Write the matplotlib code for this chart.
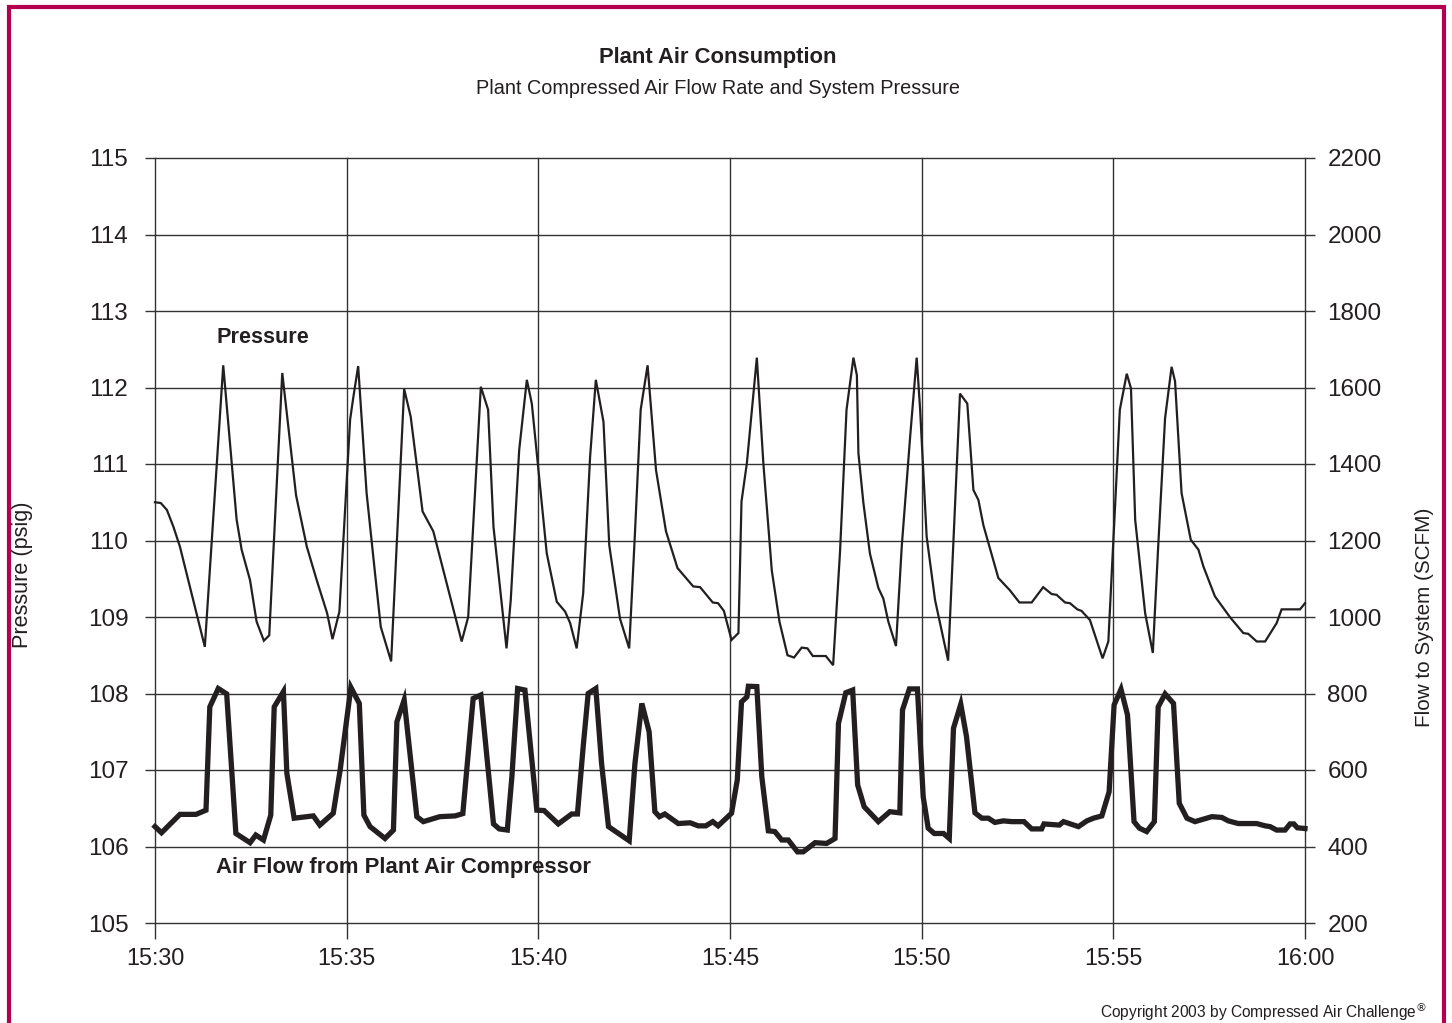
import matplotlib
matplotlib.use("Agg")
import matplotlib.pyplot as plt
from matplotlib.patches import Rectangle
from matplotlib import font_manager

names = {f.name for f in font_manager.fontManager.ttflist}
FAM = ['Liberation Sans Narrow', 'Liberation Sans', 'DejaVu Sans'] if 'Liberation Sans Narrow' in names else ['Liberation Sans', 'DejaVu Sans']
plt.rcParams['font.family'] = FAM

INK = '#231f20'
BORDER = '#b3004f'

# ---- data (minutes after 15:30) ----
pressure_t = [0.00, 0.15, 0.31, 0.48, 0.65, 1.30, 1.78, 2.13, 2.26, 2.48, 2.65, 2.84, 2.98,
              3.32, 3.68, 3.96, 4.22, 4.49, 4.63, 4.81, 5.09, 5.17, 5.30, 5.52, 5.74, 5.89,
              6.16, 6.50, 6.67, 6.98, 7.26, 8.00, 8.17, 8.50, 8.69, 8.83, 9.17, 9.28, 9.50,
              9.70, 9.83, 10.03, 10.22, 10.48, 10.70, 10.83, 11.00, 11.17, 11.35, 11.50, 11.70,
              11.85, 12.13, 12.37, 12.52, 12.67, 12.85, 13.07, 13.33, 13.63, 14.04, 14.22,
              14.55, 14.69, 14.84, 15.04, 15.22, 15.30, 15.44, 15.70, 15.87, 16.09, 16.29,
              16.50, 16.67, 16.87, 17.02, 17.16, 17.50, 17.69, 17.87, 18.04, 18.22, 18.31,
              18.35, 18.48, 18.65, 18.87, 19.00, 19.13, 19.33, 19.48, 19.70, 19.87, 19.96,
              20.13, 20.35, 20.69, 20.83, 21.00, 21.19, 21.35, 21.48, 21.61, 22.00, 22.30,
              22.55, 22.87, 23.17, 23.39, 23.52, 23.74, 23.87, 24.06, 24.17, 24.39, 24.72,
              24.87, 25.04, 25.17, 25.35, 25.46, 25.57, 25.83, 26.03, 26.17, 26.35, 26.52,
              26.61, 26.78, 27.02, 27.22, 27.35, 27.65, 28.04, 28.39, 28.52, 28.74, 28.96,
              29.26, 29.39, 29.87, 30.00]
pressure_psig = [110.50, 110.49, 110.40, 110.18, 109.92, 108.61, 112.29, 110.27, 109.88, 109.48,
                 108.94, 108.69, 108.76, 112.19, 110.59, 109.92, 109.48, 109.05, 108.71, 109.07,
                 111.58, 111.86, 112.28, 110.62, 109.57, 108.87, 108.42, 111.98, 111.62, 110.38,
                 110.12, 108.68, 109.00, 112.01, 111.71, 110.18, 108.59, 109.22, 111.18, 112.10,
                 111.79, 110.79, 109.83, 109.20, 109.07, 108.92, 108.59, 109.31, 111.09, 112.10,
                 111.55, 109.94, 108.98, 108.59, 110.09, 111.71, 112.29, 110.92, 110.12, 109.64,
                 109.40, 109.39, 109.19, 109.18, 109.08, 108.70, 108.79, 110.51, 111.01, 112.39,
                 111.01, 109.61, 108.94, 108.50, 108.47, 108.60, 108.59, 108.49, 108.49, 108.37,
                 109.85, 111.71, 112.39, 112.16, 111.14, 110.49, 109.83, 109.38, 109.24, 108.94,
                 108.62, 109.92, 111.36, 112.39, 111.71, 110.05, 109.22, 108.43, 110.00, 111.92,
                 111.79, 110.66, 110.53, 110.20, 109.51, 109.35, 109.19, 109.19, 109.39, 109.30,
                 109.29, 109.19, 109.18, 109.10, 109.08, 108.96, 108.46, 108.68, 110.40, 111.71,
                 112.18, 111.99, 110.27, 109.05, 108.53, 109.92, 111.60, 112.27, 112.08, 110.62,
                 110.01, 109.88, 109.66, 109.27, 109.00, 108.79, 108.78, 108.68, 108.68, 108.92,
                 109.10, 109.10, 109.18]

flow_t = [0.00, 0.17, 0.65, 1.07, 1.33, 1.43, 1.65, 1.87, 2.11, 2.48, 2.63, 2.83, 3.02, 3.11,
          3.35, 3.44, 3.63, 4.13, 4.30, 4.65, 4.83, 5.11, 5.33, 5.45, 5.61, 6.00, 6.22, 6.31,
          6.50, 6.83, 7.00, 7.43, 7.83, 8.03, 8.17, 8.30, 8.50, 8.83, 8.98, 9.19, 9.31, 9.46,
          9.65, 9.96, 10.15, 10.52, 10.87, 11.02, 11.17, 11.30, 11.50, 11.65, 11.83, 12.37,
          12.52, 12.70, 12.89, 13.04, 13.16, 13.30, 13.65, 13.96, 14.17, 14.37, 14.55, 14.69,
          15.04, 15.19, 15.30, 15.44, 15.48, 15.70, 15.83, 16.00, 16.17, 16.35, 16.52, 16.76,
          16.91, 17.22, 17.52, 17.74, 17.83, 18.02, 18.20, 18.33, 18.50, 18.87, 19.17, 19.43,
          19.50, 19.68, 19.89, 20.04, 20.17, 20.33, 20.57, 20.72, 20.83, 21.02, 21.17, 21.39,
          21.57, 21.74, 21.91, 22.13, 22.35, 22.67, 22.87, 23.13, 23.19, 23.59, 23.70, 24.09,
          24.31, 24.48, 24.70, 24.89, 25.02, 25.20, 25.37, 25.54, 25.68, 25.87, 26.07, 26.17,
          26.35, 26.57, 26.72, 26.92, 27.13, 27.57, 27.83, 28.00, 28.26, 28.74, 28.96, 29.09,
          29.26, 29.48, 29.61, 29.71, 29.80, 30.00]
flow_scfm = [452, 436, 484, 484, 495, 765, 813, 799, 434, 410, 430, 417, 482, 765,
             805, 591, 474, 480, 456, 487, 600, 816, 774, 482, 452, 421, 443, 726,
             783, 478, 465, 478, 480, 486, 643, 787, 796, 459, 446, 443, 582, 813,
             809, 495, 494, 459, 485, 485, 661, 800, 813, 617, 452, 415,
             617, 774, 700, 491, 478, 485, 460, 462, 454, 454, 465, 454,
             487, 574, 778, 791, 819, 818, 582, 441, 439, 417, 417, 386,
             386, 410, 408, 421, 722, 802, 809, 561, 504, 465, 491, 488,
             757, 812, 812, 530, 448, 434, 434, 421, 709, 772, 687, 488,
             474, 474, 463, 467, 465, 465, 446, 446, 459, 456, 465, 452,
             467, 474, 480, 543, 770, 811, 744, 465, 448, 439, 465, 765,
             799, 774, 513, 474, 465, 478, 476, 467, 460, 460, 454, 452,
             443, 443, 459, 459, 449, 447]

x_ticks = [0, 5, 10, 15, 20, 25, 30]
x_labels = ['15:30', '15:35', '15:40', '15:45', '15:50', '15:55', '16:00']
p_ticks = [105, 106, 107, 108, 109, 110, 111, 112, 113, 114, 115]
f_ticks = [200, 400, 600, 800, 1000, 1200, 1400, 1600, 1800, 2000, 2200]

W, H = 1452, 1023
fig = plt.figure(figsize=(W / 100, H / 100), dpi=100)
fig.patch.set_facecolor('white')

ax = fig.add_axes([155 / W, 1 - 923 / H, 1150 / W, 765 / H])
ax2 = ax.twinx()

for a in (ax, ax2):
    for s in a.spines.values():
        s.set_visible(False)
    a.set_facecolor('none')

ax.set_xlim(0, 30)
ax.set_ylim(105, 115)
ax2.set_ylim(200, 2200)

ax.set_xticks(x_ticks)
ax.set_xticklabels(x_labels)
ax.set_yticks(p_ticks)
ax.set_yticklabels([str(v) for v in p_ticks])
ax2.set_yticks(f_ticks)
ax2.set_yticklabels([str(v) for v in f_ticks])

ax.grid(True, color='#333333', linewidth=1.0)
ax.set_axisbelow(True)
for gl in ax.get_xgridlines() + ax.get_ygridlines():
    gl.set_clip_on(False)

ax.tick_params(axis='y', which='both', left=True, right=False, length=7.2, width=1.0,
               color='#333333', pad=12, labelsize=17.5, labelcolor=INK)
ax2.tick_params(axis='y', which='both', right=True, left=False, length=7.2, width=1.0,
                color='#333333', pad=9, labelsize=17.5, labelcolor=INK)
ax.tick_params(axis='x', length=11.5, width=1.0, color='#333333', pad=6,
               labelsize=16.8, labelcolor=INK)

ax.plot(pressure_t, pressure_psig, color=INK, linewidth=1.6, solid_joinstyle='miter',
        zorder=3, clip_on=False)
ax2.plot(flow_t, flow_scfm, color=INK, linewidth=3.8, solid_joinstyle='miter',
         zorder=3, clip_on=False)

ax.set_ylabel('Pressure (psig)', fontsize=15.6, color=INK)
ax2.set_ylabel('Flow to System (SCFM)', fontsize=14.9, color=INK, rotation=90)
ax.yaxis.set_label_coords((33 - 155) / 1150, (923 - 575) / 765)
ax2.yaxis.set_label_coords((1415 - 155) / 1150, (923 - 617) / 765)

fig.text(718 / W, 1 - 58 / H, 'Plant Air Consumption', ha='center', va='center',
         fontsize=15.8, fontweight='bold', color=INK)
fig.text(718 / W, 1 - 89 / H, 'Plant Compressed Air Flow Rate and System Pressure',
         ha='center', va='center', fontsize=14.3, color=INK)
fig.text(216 / W, 1 - 338 / H, 'Pressure', ha='left', va='center', fontsize=15.6,
         fontweight='bold', color=INK)
fig.text(216 / W, 1 - 868 / H, 'Air Flow from Plant Air Compressor', ha='left',
         va='center', fontsize=15.9, fontweight='bold', color=INK)
fig.text(1427 / W, 1 - 1012 / H, r'Copyright 2003 by Compressed Air Challenge$^{\circledR}$',
         ha='right', va='center', fontsize=11.2, color=INK)

fig.patches.append(Rectangle((8.5 / W, -0.05), (1444 - 8.5) / W, 1.05 - 7 / H,
                             transform=fig.transFigure, fill=False, edgecolor=BORDER,
                             linewidth=3.0, zorder=0))

fig.savefig('out.png', dpi=100, facecolor='white')
